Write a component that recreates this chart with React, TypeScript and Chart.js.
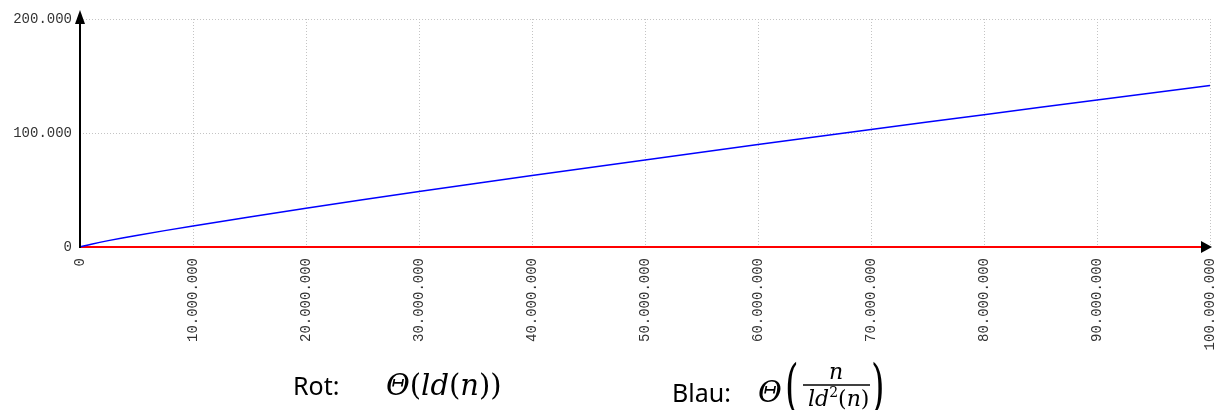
import React, { useEffect, useRef } from "react";
import { Chart, registerables } from "chart.js";

Chart.register(...registerables);

// x positions (n) and values
const nValues = [0, 1000000, 2500000, 5000000, 10000000, 20000000, 30000000, 40000000, 50000000, 60000000, 70000000, 80000000, 90000000, 100000000];
const blueValues = [0, 2500, 5600, 10100, 18500, 34000, 48600, 62700, 76400, 89900, 103100, 116100, 128900, 141600];
const redValues = [0, 20, 21, 22, 23, 24, 25, 25, 26, 26, 26, 26, 26, 27];

const xMin = 0;
const xMax = 100000000;
const xStep = 10000000;
const yMin = 0;
const yMax = 200000;
const yStep = 100000;

function fmt(v: number): string {
  const s = Math.round(v).toString();
  return s.replace(/\B(?=(\d{3})+(?!\d))/g, ".");
}

const arrowPlugin = {
  id: "arrows",
  afterDatasetsDraw(chart: any) {
    const { ctx, scales } = chart;
    const x = scales.x;
    const y = scales.y;
    const x0 = x.getPixelForValue(xMin);
    const y0 = y.getPixelForValue(yMin);
    const yTop = y.getPixelForValue(yMax);
    const xEnd = x.getPixelForValue(xMax);
    ctx.save();
    ctx.strokeStyle = "#000";
    ctx.fillStyle = "#000";
    ctx.lineWidth = 2;
    ctx.beginPath();
    ctx.moveTo(x0, y0 + 1);
    ctx.lineTo(x0, yTop);
    ctx.stroke();
    // top arrow
    ctx.beginPath();
    ctx.moveTo(x0, yTop - 9);
    ctx.lineTo(x0 - 5, yTop + 5);
    ctx.lineTo(x0 + 5, yTop + 5);
    ctx.closePath();
    ctx.fill();
    // right arrow
    ctx.beginPath();
    ctx.moveTo(xEnd + 2, y0);
    ctx.lineTo(xEnd - 9, y0 - 6);
    ctx.lineTo(xEnd - 9, y0 + 6);
    ctx.closePath();
    ctx.fill();
    ctx.restore();
  },
};

export default function App() {
  const ref = useRef<HTMLCanvasElement | null>(null);

  useEffect(() => {
    if (!ref.current) return;
    const blue = nValues.map((n, i) => ({ x: n, y: blueValues[i] }));
    const red = nValues.map((n, i) => ({ x: n, y: redValues[i] }));
    const tickFont = { family: "'Liberation Mono', 'DejaVu Sans Mono', monospace", size: 14 };
    const chart = new Chart(ref.current, {
      type: "line",
      data: {
        datasets: [
          {
            label: "Blau",
            data: blue,
            borderColor: "#0000ff",
            borderWidth: 1.5,
            pointRadius: 0,
            fill: false,
            tension: 0.3,
            clip: false as any,
            order: 0,
          },
          {
            label: "Rot",
            data: red,
            borderColor: "#ff0000",
            borderWidth: 2,
            pointRadius: 0,
            fill: false,
            clip: false as any,
            order: 1,
          },
        ],
      },
      options: {
        animation: false,
        responsive: false,
        maintainAspectRatio: false,
        layout: { padding: { top: 19, right: 10, left: 0, bottom: 0 } },
        plugins: { legend: { display: false }, tooltip: { enabled: false } },
        scales: {
          x: {
            type: "linear",
            min: xMin,
            max: xMax,
            afterFit: (s: any) => {
              s.height = 163;
              s.paddingLeft = 0;
              s.paddingRight = 0;
            },
            ticks: {
              stepSize: xStep,
              minRotation: 90,
              maxRotation: 90,
              autoSkip: false,
              padding: 11,
              font: tickFont,
              color: "#333",
              callback: (v: any) => fmt(Number(v)),
            },
            grid: { color: "#c4c4c4", drawTicks: false, lineWidth: 1 },
            border: { display: false, dash: [1, 2] },
          },
          y: {
            min: yMin,
            max: yMax,
            afterFit: (s: any) => {
              s.width = 80;
              s.paddingTop = 0;
              s.paddingBottom = 0;
            },
            ticks: {
              stepSize: yStep,
              padding: 8,
              font: tickFont,
              color: "#333",
              callback: (v: any) => fmt(Number(v)),
            },
            grid: { color: "#c4c4c4", drawTicks: false, lineWidth: 1 },
            border: { display: false, dash: [1, 2] },
          },
        },
      } as any,
      plugins: [arrowPlugin],
    });
    return () => chart.destroy();
  }, []);

  const serif = "'DejaVu Serif', serif";
  const sans = "'Noto Sans', 'Liberation Sans', sans-serif";

  return (
    <div style={{ position: "fixed", left: 0, top: 0, width: 1220, height: 410, background: "#fff", overflow: "hidden" }}>
      <canvas ref={ref} width={1220} height={410} style={{ position: "absolute", left: 0, top: 0 }} />
      <svg width={1220} height={410} style={{ position: "absolute", left: 0, top: 0 }}>
        <text x={293} y={395} fontFamily={sans} fontSize={25} fill="#000">Rot:</text>
        <text x={386} y={395} fontFamily={serif} fontSize={29} fill="#000">
          <tspan fontStyle="italic">Θ</tspan>
          <tspan>(</tspan>
          <tspan fontStyle="italic">ld</tspan>
          <tspan>(</tspan>
          <tspan fontStyle="italic">n</tspan>
          <tspan>))</tspan>
        </text>

        <text x={672} y={402} fontFamily={sans} fontSize={25} fill="#000">Blau:</text>
        <text x={758} y={402} fontFamily={serif} fontSize={29} fontStyle="italic" fill="#000">Θ</text>
        <text transform="translate(785,406) scale(0.6,1)" fontFamily={serif} fontSize={58} fill="#000">(</text>
        <text x={836} y={379} fontFamily={serif} fontSize={22} fontStyle="italic" textAnchor="middle" fill="#000">n</text>
        <line x1={803} x2={870} y1={385} y2={385} stroke="#000" strokeWidth={1.5} />
        <text x={808} y={406} fontFamily={serif} fontSize={22} fill="#000">
          <tspan fontStyle="italic">ld</tspan>
          <tspan fontSize={14} dy={-9}>2</tspan>
          <tspan dy={9}>(</tspan>
          <tspan fontStyle="italic">n</tspan>
          <tspan>)</tspan>
        </text>
        <text transform="translate(871,406) scale(0.6,1)" fontFamily={serif} fontSize={58} fill="#000">)</text>
      </svg>
    </div>
  );
}
